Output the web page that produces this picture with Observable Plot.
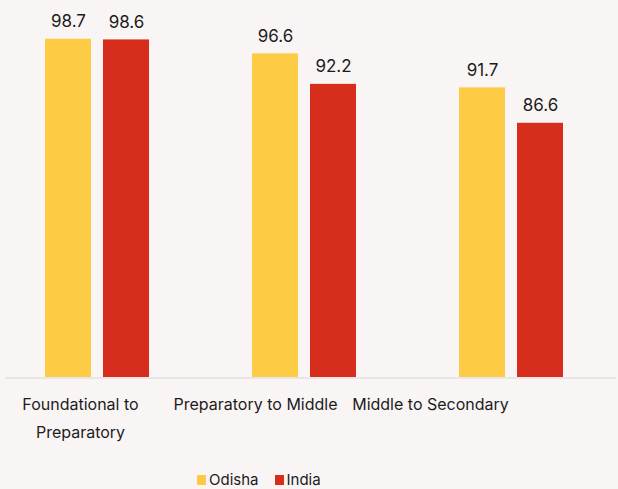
<!DOCTYPE html>
<html>
<head>
<meta charset="utf-8">
<script src="https://cdn.jsdelivr.net/npm/d3@7"></script>
<script src="https://cdn.jsdelivr.net/npm/@observablehq/plot@0.6"></script>
<style>
  html, body { margin: 0; padding: 0; background: #faf5f5; }
  #chart { width: 618px; height: 489px; background: #faf5f5; overflow: hidden; font-family: Inter, "Open Sans", sans-serif; }
  #chart svg { display: block; }
  .lg-swatch svg { margin-right: 3px !important; }
  .lg-swatch { margin-right: 16px !important; }
</style>
</head>
<body>
<div id="chart"></div>
<script>
const categories = ["Foundational to Preparatory", "Preparatory to Middle", "Middle to Secondary"];
const tickLabels = ["Foundational to\nPreparatory", "Preparatory to Middle", "Middle to Secondary"];
const series = ["Odisha", "India"];
const odisha = [98.7, 96.6, 91.7];
const india = [98.6, 92.2, 86.6];
const colors = ["#fecb45", "#d62d1d"];
const yDomain = [50, 100];

const data = [];
categories.forEach((c, i) => {
  data.push({stage: c, series: "Odisha", value: odisha[i]});
  data.push({stage: c, series: "India", value: india[i]});
});

const font = "Inter, 'Open Sans', sans-serif";
const root = document.getElementById("chart");

const main = Plot.plot({
  width: 618,
  height: 377,
  marginTop: 29.7,
  marginBottom: 0,
  marginLeft: 5,
  marginRight: 2,
  style: {background: "transparent", fontFamily: font},
  fx: {domain: categories, paddingInner: 0.4314, paddingOuter: 0.188, axis: null},
  x: {domain: series, paddingInner: 0.2119, paddingOuter: 0.106, align: 0, axis: null},
  y: {domain: yDomain, axis: null},
  color: {domain: series, range: colors},
  marks: [
    Plot.barY(data, {fx: "stage", x: "series", y1: yDomain[0], y2: "value", fill: "series"}),
    Plot.text(data, {fx: "stage", x: "series", y: "value", text: d => d.value.toFixed(1), dy: -12, lineAnchor: "bottom", fontSize: 17, fill: "#1c1c1c"})
  ]
});
root.appendChild(main);

const labelsPlot = Plot.plot({
  width: 618,
  height: 86,
  marginTop: 0.5,
  marginBottom: 0,
  marginLeft: 5,
  marginRight: 2,
  style: {background: "transparent", fontFamily: font},
  x: {type: "point", domain: categories, range: [80, 430], padding: 0, axis: null},
  y: {domain: [0, 1], axis: null},
  marks: [
    Plot.ruleY([1], {stroke: "#d9d6d6", strokeWidth: 1}),
    Plot.text(categories, {x: d => d, text: (d, i) => tickLabels[i], frameAnchor: "top", lineAnchor: "top", dy: 12, fontSize: 16, lineHeight: 1.75, fill: "#1c1c1c"})
  ]
});
root.appendChild(labelsPlot);

const legend = Plot.legend({
  color: {domain: series, range: colors},
  swatchWidth: 9,
  swatchHeight: 10,
  className: "lg",
  style: {fontFamily: font, fontSize: "15px", color: "#1c1c1c", marginLeft: "197px", marginTop: "0px", marginBottom: "0px", background: "transparent"}
});
root.appendChild(legend);
</script>
</body>
</html>
